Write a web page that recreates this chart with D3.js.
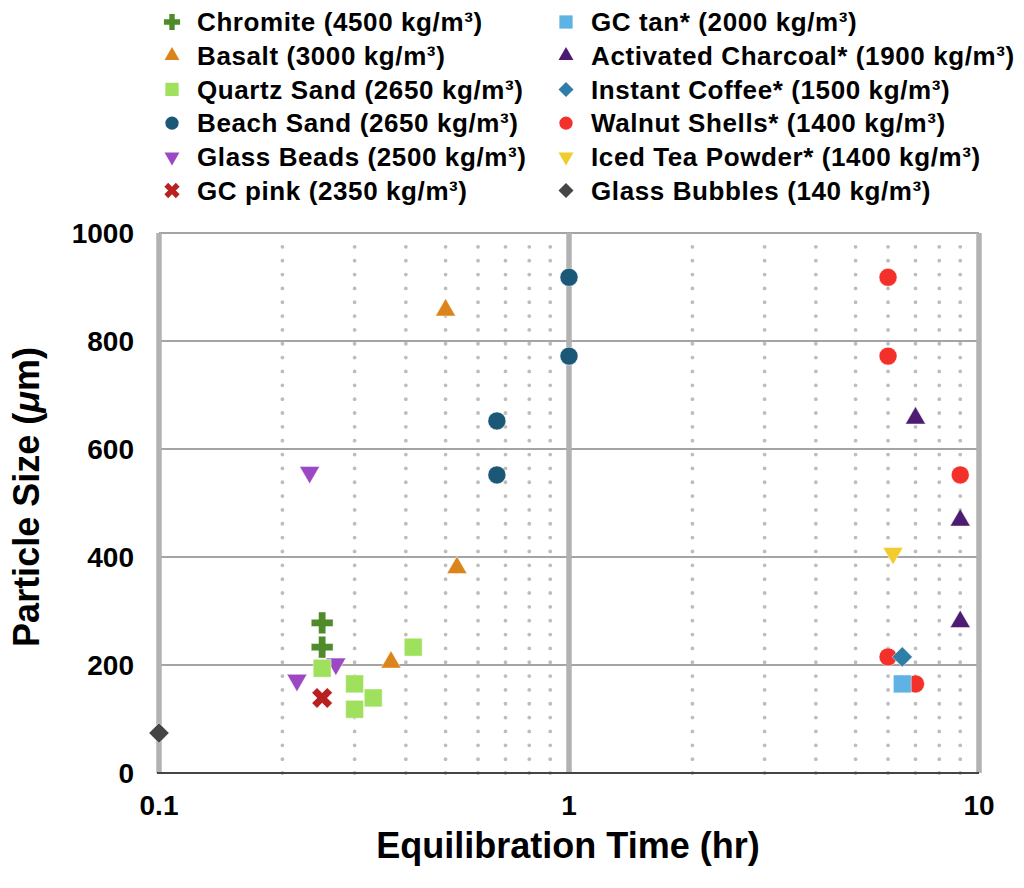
<!DOCTYPE html>
<html>
<head>
<meta charset="utf-8">
<script src="https://cdn.jsdelivr.net/npm/d3@7"></script>
<style>
  body { margin: 0; background: #fff; }
  svg { display: block; font-family: "Liberation Sans", Arial, sans-serif; font-weight: bold; }
</style>
</head>
<body>
<svg id="chart" width="1024" height="888"></svg>
<script>
// series names (legend order) with density labels
var seriesNames = [
  'Chromite (4500 kg/m³)', 'Basalt (3000 kg/m³)', 'Quartz Sand (2650 kg/m³)',
  'Beach Sand (2650 kg/m³)', 'Glass Beads (2500 kg/m³)', 'GC pink (2350 kg/m³)',
  'GC tan* (2000 kg/m³)', 'Activated Charcoal* (1900 kg/m³)', 'Instant Coffee* (1500 kg/m³)',
  'Walnut Shells* (1400 kg/m³)', 'Iced Tea Powder* (1400 kg/m³)', 'Glass Bubbles (140 kg/m³)'
];
var seriesColors = ['#4f8a2b', '#dc841c', '#9fe05c', '#1b5878', '#9c48c4', '#b8211f',
                    '#5fb3e4', '#4e1b72', '#2f7ea7', '#f3302a', '#f0cc2e', '#454545'];
var seriesShapes = ['plus', 'up', 'square', 'circle', 'down', 'x',
                    'square', 'up', 'diamond', 'circle', 'down', 'diamond'];

// equilibration time (hr) and particle size (um), one array per series
var chromiteT = [0.25, 0.25],            chromiteS = [278, 233];
var basaltT = [0.5, 0.533, 0.368],       basaltS = [857, 380, 205];
var quartzT = [0.25, 0.3, 0.333, 0.3, 0.417], quartzS = [194, 165, 139, 118, 233];
var beachT = [1, 1, 0.667, 0.667],       beachS = [918, 772, 652, 552];
var beadsT = [0.233, 0.217, 0.27],       beadsS = [557, 172, 202];
var pinkT = [0.25],                      pinkS = [139];
var tanT = [6.5],                        tanS = [165];
var charcoalT = [7, 9, 9],               charcoalS = [657, 468, 280];
var coffeeT = [6.5],                     coffeeS = [215];
var walnutT = [6, 6, 9, 6, 7],           walnutS = [918, 772, 552, 215, 165];
var teaT = [6.17],                       teaS = [407];
var bubblesT = [0.1],                    bubblesS = [74];

var seriesT = [chromiteT, basaltT, quartzT, beachT, beadsT, pinkT, tanT, charcoalT, coffeeT, walnutT, teaT, bubblesT];
var seriesS = [chromiteS, basaltS, quartzS, beachS, beadsS, pinkS, tanS, charcoalS, coffeeS, walnutS, teaS, bubblesS];
var drawOrder = [11, 9, 4, 3, 1, 0, 2, 5, 6, 7, 8, 10];

var xTicks = [0.1, 1, 10];
var xMinor = [0.2, 0.3, 0.4, 0.5, 0.6, 0.7, 0.8, 0.9, 2, 3, 4, 5, 6, 7, 8, 9];
var yTicks = [0, 200, 400, 600, 800, 1000];

var svg = d3.select('#chart');
var x = d3.scaleLog().domain([0.1, 10]).range([159, 979]);
var y = d3.scaleLinear().domain([0, 1000]).range([773, 233]);

// symbol paths
function shapePath(shape, k) {
  var sym;
  if (shape === 'circle') sym = d3.symbol(d3.symbolCircle, 254 * k);
  else if (shape === 'square') sym = d3.symbol(d3.symbolSquare, 320 * k);
  else if (shape === 'up' || shape === 'down') sym = d3.symbol(d3.symbolTriangle, 175 * k);
  else if (shape === 'diamond') sym = d3.symbol(d3.symbolSquare, 205 * k);
  else sym = d3.symbol(d3.symbolCross, 265 * k);
  return sym();
}
function shapeRot(shape) {
  if (shape === 'down') return 180;
  if (shape === 'diamond' || shape === 'x') return 45;
  return 0;
}

// gridlines
var grid = svg.append('g');
grid.selectAll('.minor')
  .data(xMinor)
  .enter()
  .append('line')
  .attr('x1', function (d) { return x(d); })
  .attr('x2', function (d) { return x(d); })
  .attr('y1', y(0))
  .attr('y2', y(1000) + 6)
  .attr('stroke', '#bdbdbd')
  .attr('stroke-width', 3.8)
  .attr('stroke-linecap', 'round')
  .attr('stroke-dasharray', '0,13.846');

grid.selectAll('.hline')
  .data(yTicks.slice(1))
  .enter()
  .append('line')
  .attr('x1', x(0.1))
  .attr('x2', x(10))
  .attr('y1', function (d) { return y(d); })
  .attr('y2', function (d) { return y(d); })
  .attr('stroke', '#a4a4a4')
  .attr('stroke-width', 2);

// frame: left, x=1 and right vertical bars
grid.selectAll('.vbar')
  .data(xTicks)
  .enter()
  .append('line')
  .attr('x1', function (d) { return x(d); })
  .attr('x2', function (d) { return x(d); })
  .attr('y1', y(1000))
  .attr('y2', y(0))
  .attr('stroke', '#b2b2b2')
  .attr('stroke-width', 5.5);

// bottom axis line
svg.append('line')
  .attr('x1', x(0.1) - 2)
  .attr('x2', x(10))
  .attr('y1', y(0))
  .attr('y2', y(0))
  .attr('stroke', '#454545')
  .attr('stroke-width', 2);

// tick labels
svg.append('g')
  .selectAll('text')
  .data(yTicks)
  .enter()
  .append('text')
  .attr('x', 134)
  .attr('y', function (d) { return y(d); })
  .attr('dy', '0.36em')
  .attr('text-anchor', 'end')
  .attr('font-size', 28)
  .text(function (d) { return d; });

svg.append('g')
  .selectAll('text')
  .data(xTicks)
  .enter()
  .append('text')
  .attr('x', function (d) { return x(d); })
  .attr('y', 815)
  .attr('text-anchor', 'middle')
  .attr('font-size', 28)
  .text(function (d) { return d; });

// axis titles
svg.append('text')
  .attr('x', 568)
  .attr('y', 858)
  .attr('text-anchor', 'middle')
  .attr('font-size', 36)
  .text('Equilibration Time (hr)');

var yTitle = svg.append('text')
  .attr('transform', 'translate(39,497) rotate(-90)')
  .attr('text-anchor', 'middle')
  .attr('font-size', 36);
yTitle.append('tspan').text('Particle Size (');
yTitle.append('tspan').attr('font-style', 'italic').text('\u03bc');
yTitle.append('tspan').text('m)');

// points
var pts = svg.append('g');
drawOrder.forEach(function (i) {
  var data = seriesT[i].map(function (t, j) { return { t: t, s: seriesS[i][j] }; });
  pts.selectAll('.p' + i)
    .data(data)
    .enter()
    .append('path')
    .attr('d', shapePath(seriesShapes[i], 1))
    .attr('transform', function (d) {
      return 'translate(' + x(d.t) + ',' + y(d.s) + ') rotate(' + shapeRot(seriesShapes[i]) + ')';
    })
    .attr('fill', seriesColors[i])
    .attr('stroke', '#fff')
    .attr('stroke-opacity', 0.6)
    .attr('stroke-width', 0.8);
});

// legend
var legend = svg.append('g');
var rows = legend.selectAll('g')
  .data(seriesNames)
  .enter()
  .append('g')
  .attr('transform', function (d, i) {
    var col = Math.floor(i / 6), row = i % 6;
    return 'translate(' + (col === 0 ? 172 : 566) + ',' + (22 + row * 33.7) + ')';
  });
rows.append('path')
  .attr('d', function (d, i) { return shapePath(seriesShapes[i], 0.55); })
  .attr('transform', function (d, i) { return 'rotate(' + shapeRot(seriesShapes[i]) + ')'; })
  .attr('fill', function (d, i) { return seriesColors[i]; });
rows.append('text')
  .attr('x', 25)
  .attr('dy', '0.36em')
  .attr('font-size', 26)
  .attr('letter-spacing', 0.6)
  .text(function (d) { return d; });
</script>
</body>
</html>
